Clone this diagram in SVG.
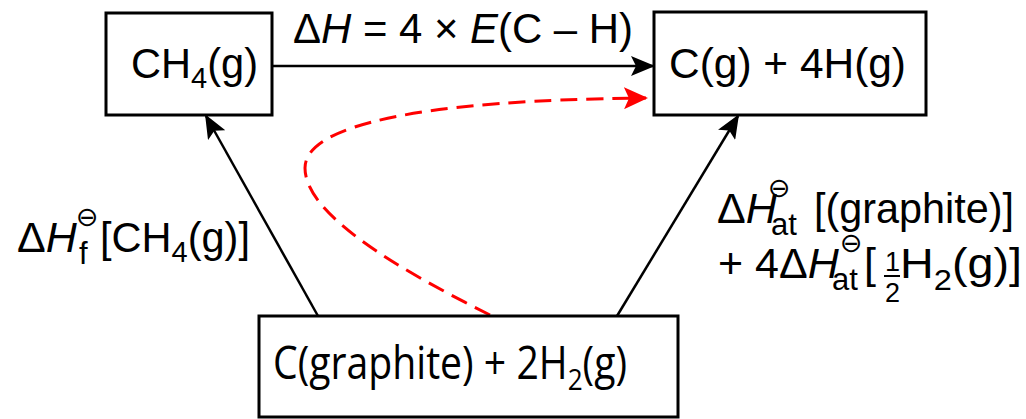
<svg xmlns="http://www.w3.org/2000/svg" width="1026" height="419" viewBox="0 0 1026 419">
<style>
.box{fill:#fff;stroke:#000;stroke-width:3}
.t{font-family:"Liberation Sans",Arial,sans-serif;font-size:43px;fill:#000}
.s{font-family:"Liberation Sans",Arial,sans-serif;font-size:31px;fill:#000}
.fr{font-family:"Liberation Sans",Arial,sans-serif;font-size:27px;fill:#000}
.o{font-family:"Open Sans","Noto Sans",sans-serif;font-size:45px;fill:#000}
.i{font-style:italic}
.pl{font-family:"DejaVu Sans",sans-serif;font-size:27px;fill:#000}
.ln{fill:none;stroke:#000;stroke-width:2.5}
.rd{fill:none;stroke:#f00;stroke-width:3;stroke-dasharray:17 9}
</style>
<defs>
<marker id="ah" viewBox="0 0 24 20" markerWidth="24" markerHeight="20" refX="22" refY="10" orient="auto" markerUnits="userSpaceOnUse"><path d="M0,0 L24,10 L0,20 L5,10 z" fill="#000"/></marker>
<marker id="ahr" viewBox="0 0 24 22" markerWidth="24" markerHeight="22" refX="22" refY="11" orient="auto" markerUnits="userSpaceOnUse"><path d="M0,0 L24,11 L0,22 L5,11 z" fill="#f00"/></marker>
</defs>
<rect width="1026" height="419" fill="#fff"/>
<g id="connectors">
<line class="ln" x1="272" y1="66" x2="653" y2="66" marker-end="url(#ah)"/>
<line class="ln" x1="318" y1="316" x2="206" y2="116" marker-end="url(#ah)"/>
<line class="ln" x1="617" y1="316" x2="738" y2="116" marker-end="url(#ah)"/>
<path class="rd" d="M490,315 C400,270 305,215 305,168 C305,125 420,100 646,98" marker-end="url(#ahr)"/>
<text class="t" x="293" y="43" textLength="340" lengthAdjust="spacingAndGlyphs">Δ<tspan class="i">H</tspan> = 4 × <tspan class="i">E</tspan>(C – H)</text>
<g id="label-left">
<text class="t" x="17" y="252">Δ<tspan class="i">H</tspan></text>
<text class="pl" x="76" y="226">⊖</text>
<text class="s" x="79" y="264">f</text>
<text class="t" x="100" y="252" textLength="150" lengthAdjust="spacingAndGlyphs">[CH<tspan font-size="30" dy="10">4</tspan><tspan dy="-10">(g)]</tspan></text>
</g>
<g id="label-right">
<text class="t" x="717" y="223">Δ<tspan class="i">H</tspan></text>
<text class="pl" x="768" y="197">⊖</text>
<text class="s" x="771" y="235">at</text>
<text class="t" x="814" y="223" textLength="200" lengthAdjust="spacingAndGlyphs">[(graphite)]</text>
<text class="t" x="718" y="278">+ 4Δ<tspan class="i">H</tspan></text>
<text class="pl" x="840" y="252">⊖</text>
<text class="s" x="832" y="290">at</text>
<text class="t" x="864" y="278">[</text>
<text class="fr" x="885" y="271">1</text>
<line x1="884" y1="276" x2="900" y2="276" stroke="#000" stroke-width="2"/>
<text class="fr" x="885" y="302">2</text>
<text class="t" x="900" y="278" textLength="122" lengthAdjust="spacingAndGlyphs">H<tspan font-size="30" dy="12">2</tspan><tspan dy="-12">(g)]</tspan></text>
</g>
</g>
<g id="ch4">
<rect class="box" x="106" y="13" width="166" height="102"/>
<text class="t" x="131" y="78" textLength="127" lengthAdjust="spacingAndGlyphs">CH<tspan font-size="30" dy="10">4</tspan><tspan dy="-10">(g)</tspan></text>
</g>
<g id="atoms">
<rect class="box" x="654" y="12" width="272" height="103"/>
<text class="t" x="669" y="78" textLength="237" lengthAdjust="spacingAndGlyphs">C(g) + 4H(g)</text>
</g>
<g id="elements">
<rect class="box" x="259" y="316" width="419" height="101"/>
<text class="o" x="273" y="379" textLength="354" lengthAdjust="spacingAndGlyphs">C(graphite) + 2H<tspan font-size="30" dy="11">2</tspan><tspan dy="-11">(g)</tspan></text>
</g>
</svg>
